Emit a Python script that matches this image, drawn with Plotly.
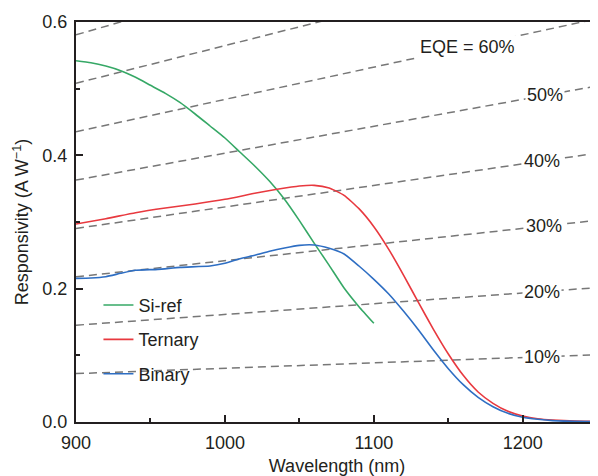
import plotly.graph_objects as go
import numpy as np

# ---- data ----
si_wl = [900, 910, 920, 930, 940, 950, 960, 970, 980, 990, 1000, 1010, 1020, 1030,
         1040, 1050, 1060, 1070, 1080, 1090, 1100]
si_r = [0.542, 0.539, 0.534, 0.527, 0.517, 0.505, 0.493, 0.479, 0.462, 0.444, 0.426,
        0.405, 0.384, 0.361, 0.334, 0.302, 0.268, 0.235, 0.201, 0.173, 0.148]

ter_wl = [900, 920, 940, 960, 980, 1000, 1020, 1035, 1050, 1060, 1070, 1080, 1090, 1100,
          1110, 1120, 1130, 1140, 1150, 1160, 1170, 1180, 1190, 1200, 1210, 1220, 1235, 1250]
ter_r = [0.297, 0.305, 0.314, 0.321, 0.327, 0.334, 0.343, 0.349, 0.354, 0.355, 0.351,
         0.340, 0.320, 0.293, 0.259, 0.220, 0.179, 0.139, 0.102, 0.070, 0.045, 0.028,
         0.016, 0.009, 0.005, 0.003, 0.0015, 0.001]

bin_wl = [900, 910, 920, 930, 940, 955, 970, 990, 1000, 1010, 1020, 1030, 1040, 1050,
          1060, 1070, 1080, 1090, 1100, 1110, 1120, 1130, 1140, 1150, 1160, 1170, 1180,
          1190, 1200, 1210, 1220, 1235, 1250]
bin_r = [0.2155, 0.216, 0.218, 0.223, 0.2275, 0.229, 0.232, 0.234, 0.238, 0.245, 0.250,
         0.256, 0.261, 0.265, 0.2655, 0.2605, 0.252, 0.234, 0.214, 0.192, 0.166, 0.138,
         0.108, 0.080, 0.056, 0.037, 0.023, 0.013, 0.007, 0.004, 0.002, 0.001, 0.0005]

# EQE guide lines: responsivity at both ends of the wavelength axis
eqe_levels = [10, 20, 30, 40, 50, 60, 70, 80]
eqe_wl_ends = [900, 1250]
eqe_r_900 = [0.0726, 0.1452, 0.2178, 0.2903, 0.3629, 0.4355, 0.5081, 0.5807]
eqe_r_1250 = [0.1008, 0.2016, 0.3025, 0.4033, 0.5041, 0.6049, 0.7057, 0.8066]
eqe_labels = ["10%", "20%", "30%", "40%", "50%", "EQE = 60%"]
eqe_label_wl = [1213, 1213, 1214, 1213, 1215, 1163]

x_ticks = [900, 1000, 1100, 1200]
y_ticks = [0.0, 0.2, 0.4, 0.6]

FONT = "Liberation Sans, Arial, sans-serif"
INK = "#231f20"

fig = go.Figure()

for lvl, a, b in zip(eqe_levels, eqe_r_900, eqe_r_1250):
    fig.add_trace(go.Scatter(x=eqe_wl_ends, y=[a, b], mode="lines",
                             line=dict(color="#777777", width=1.5, dash="8px,5px"),
                             showlegend=False, hoverinfo="skip"))

fig.add_trace(go.Scatter(x=si_wl, y=si_r, mode="lines", name="Si-ref",
                         line=dict(color="#36a866", width=1.6, shape="spline", smoothing=0.5),
                         legendgroup="a"))
fig.add_trace(go.Scatter(x=ter_wl, y=ter_r, mode="lines", name="Ternary",
                         line=dict(color="#e8393f", width=1.6, shape="spline", smoothing=0.5),
                         legendgroup="b"))
fig.add_trace(go.Scatter(x=bin_wl, y=bin_r, mode="lines", name="Binary",
                         line=dict(color="#2e6ec3", width=1.6, shape="spline", smoothing=0.5),
                         legendgroup="c"))

for lab, wl, a, b in zip(eqe_labels, eqe_label_wl, eqe_r_900, eqe_r_1250):
    yv = float(np.interp(wl, eqe_wl_ends, [a, b]))
    fig.add_annotation(x=wl, y=yv, text=lab, showarrow=False, xanchor="center",
                       yanchor="middle", bgcolor="white", borderpad=1,
                       font=dict(size=18, color=INK, family=FONT))

axis_common = dict(showgrid=False, zeroline=False, showline=True, linecolor=INK,
                   linewidth=2, ticks="inside", ticklen=7, tickwidth=1.5, tickcolor=INK,
                   automargin=False,
                   tickfont=dict(size=18, color=INK, family=FONT))

fig.update_xaxes(range=[900, 1250.5], tickvals=x_ticks, mirror=True,
                 minor=dict(ticks="inside", ticklen=4, tickwidth=1.5, tickcolor=INK, dtick=50),
                 title=dict(text="Wavelength (nm)", font=dict(size=18, color=INK, family=FONT),
                            standoff=12),
                 ticklabelstandoff=3, **axis_common)
fig.update_yaxes(range=[0, 0.6], tickvals=y_ticks, tickformat=".1f",
                 minor=dict(ticks="inside", ticklen=4, tickwidth=1.5, tickcolor=INK, dtick=0.1),
                 title=dict(text="Responsivity (A W<sup>−1</sup>)",
                            font=dict(size=18, color=INK, family=FONT), standoff=9),
                 ticklabelstandoff=3, **axis_common)

# the page adds an 8px body margin, so the figure is 8px smaller each way
fig.update_layout(
    width=590, height=468,
    margin=dict(l=68, r=0, t=14, b=54),
    paper_bgcolor="white", plot_bgcolor="white",
    font=dict(family=FONT, color=INK),
    legend=dict(x=0.043, y=0.338, xanchor="left", yanchor="top",
                bgcolor="rgba(0,0,0,0)", tracegroupgap=8,
                font=dict(size=18, color=INK, family=FONT)),
    showlegend=True,
)

fig.write_html("out.html")
